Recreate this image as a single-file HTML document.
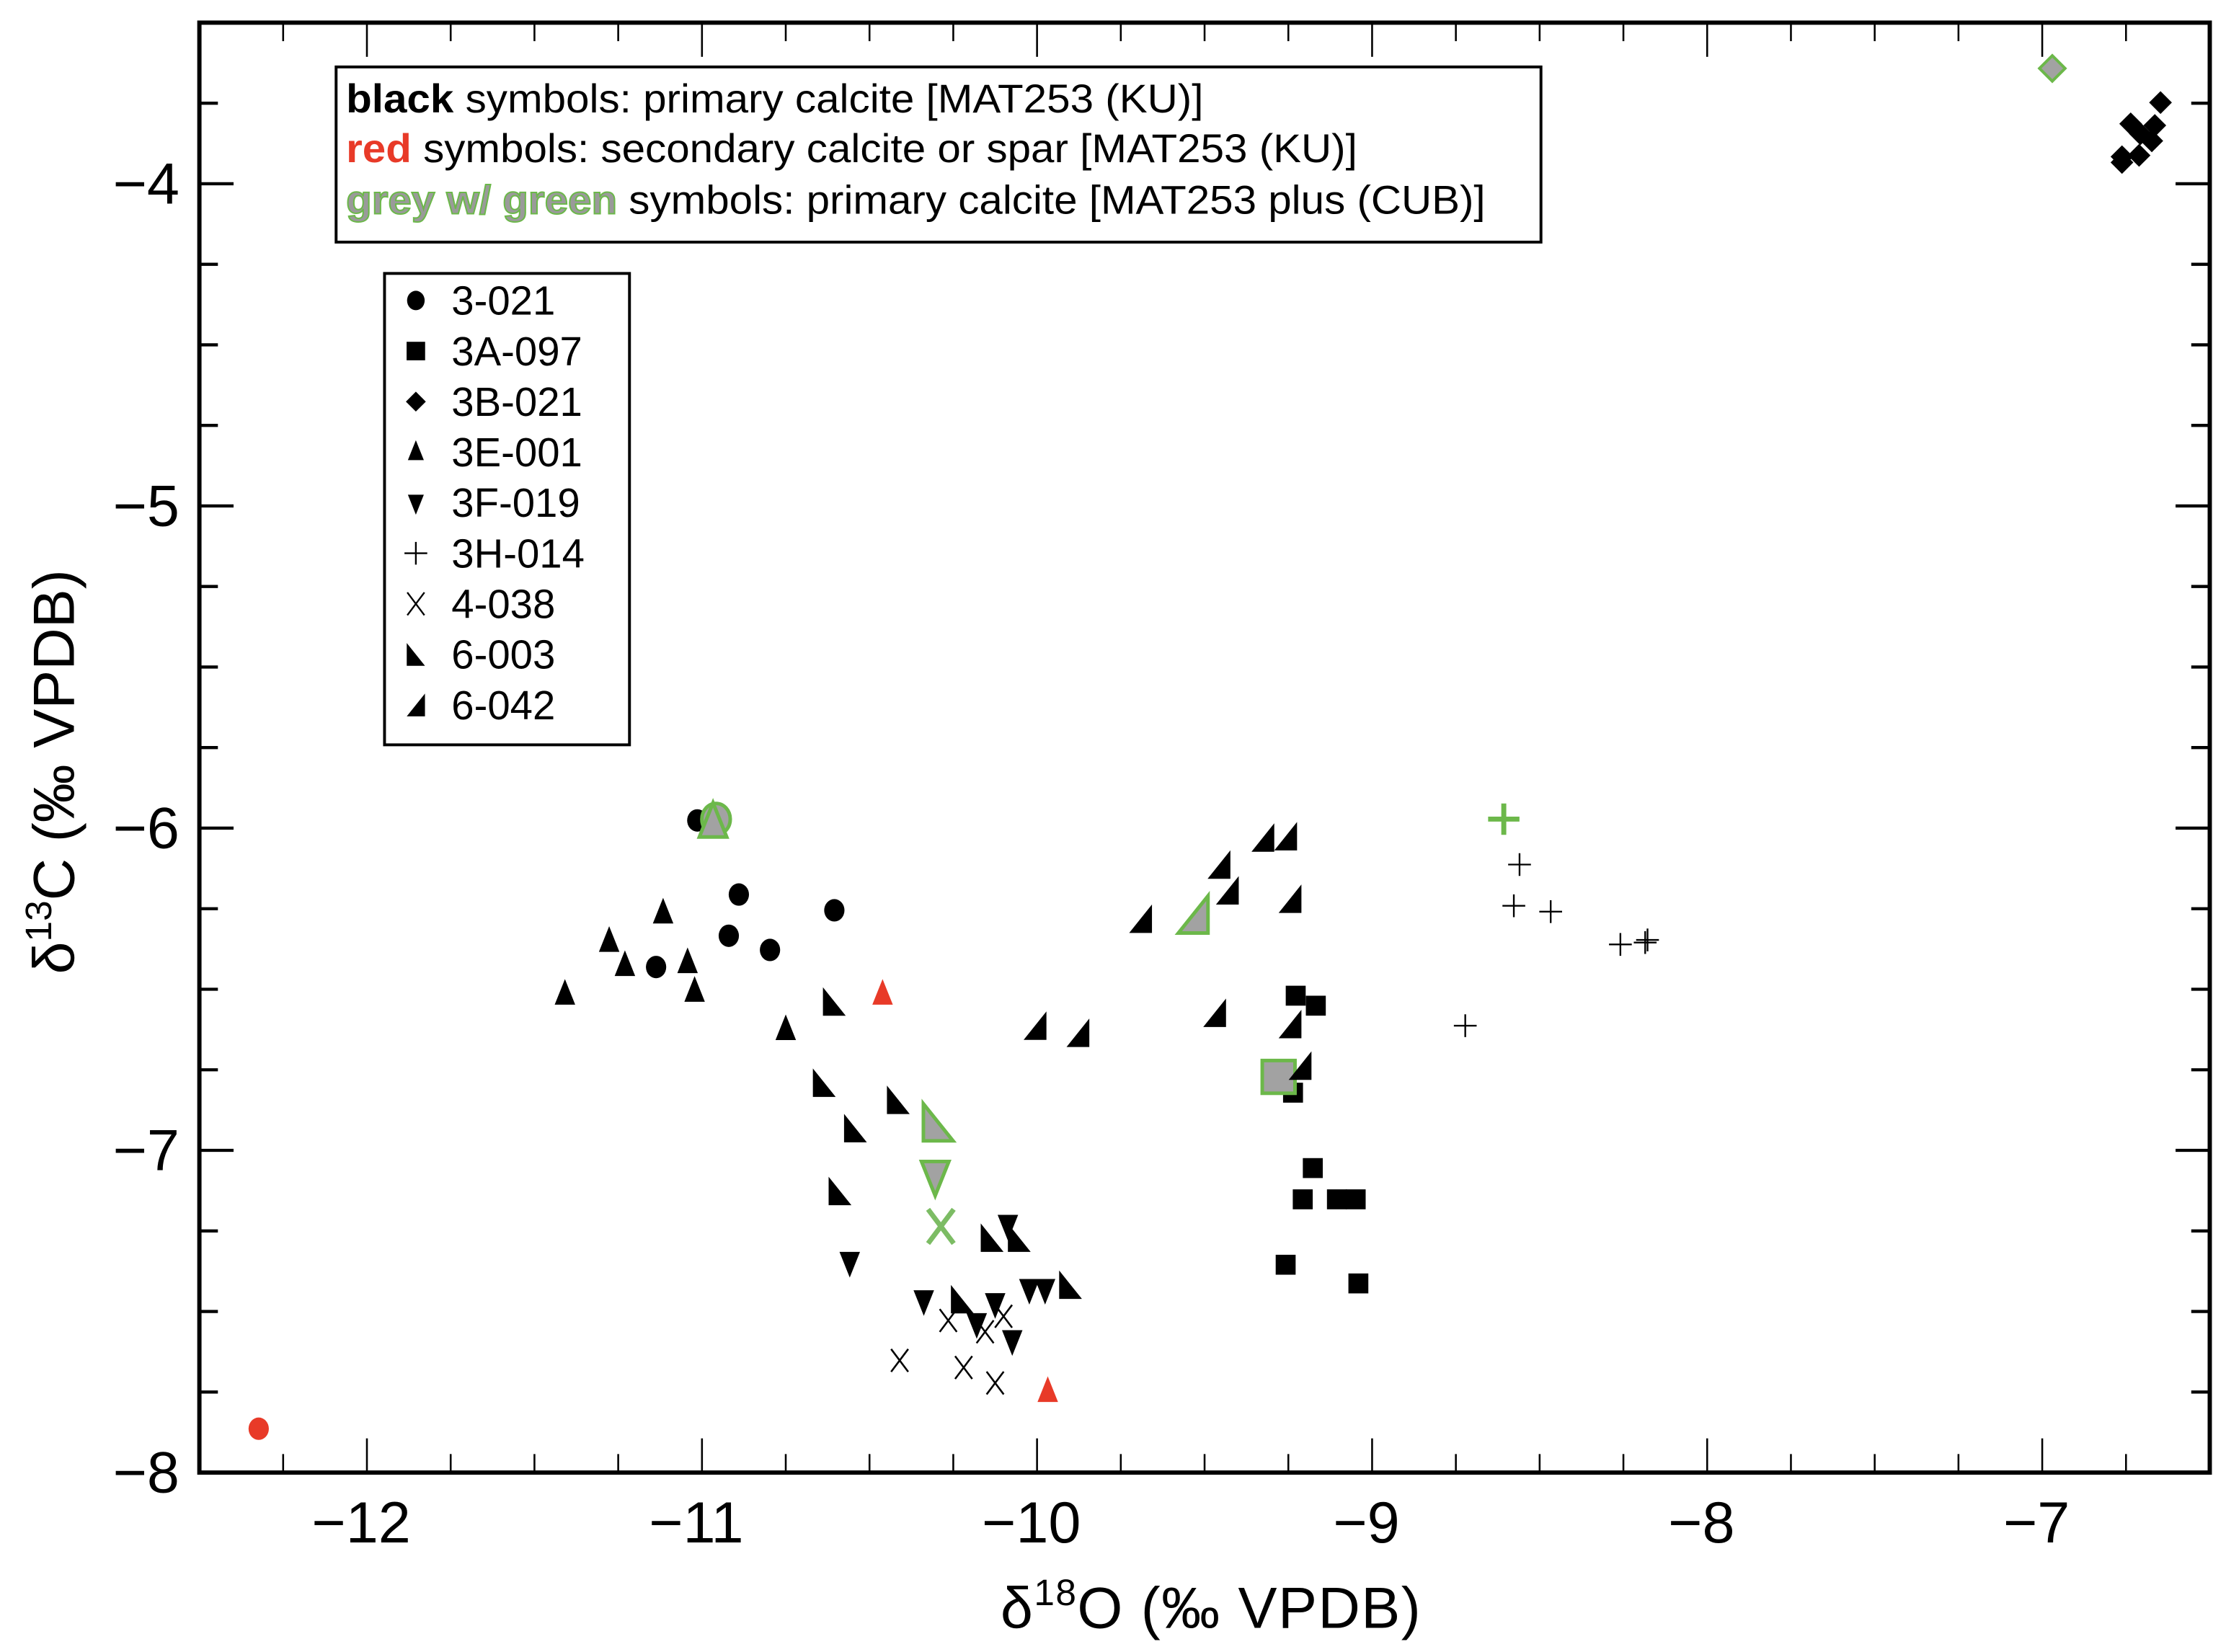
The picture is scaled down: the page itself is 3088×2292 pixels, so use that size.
<!DOCTYPE html>
<html><head><meta charset="utf-8"><style>
html,body{margin:0;padding:0;background:#fff;}
svg{display:block;font-family:"Liberation Sans",Arial,sans-serif;}
</style></head><body>
<svg id="chart" width="3088" height="2292" viewBox="0 0 1563 1160" preserveAspectRatio="none" xmlns="http://www.w3.org/2000/svg">
<g id="axes"></g>
<g id="marks"></g>
<g id="legend"></g>
</svg>
<script>
const xTicks = [-12, -11, -10, -9, -8, -7];
const yTicks = [-4, -5, -6, -7, -8];
// series: [x (d18O), y (d13C)]
const s3021 = [[-11.014,-5.976],[-10.890,-6.206],[-10.920,-6.334],[-10.797,-6.378],[-11.137,-6.431],[-10.605,-6.255]];
const s3021Red = [[-12.323,-7.864]];
const s3021Green = [[-10.958,-5.972]];
const s3A097 = [[-9.228,-6.520],[-9.168,-6.551],[-9.236,-6.821],[-9.177,-7.055],[-9.207,-7.152],[-9.105,-7.152],[-9.049,-7.152],[-9.258,-7.355],[-9.041,-7.413]];
const s3A097Green = [[-9.279,-6.772]];
const s3B021 = [[-6.647,-3.748],[-6.736,-3.814],[-6.664,-3.819],[-6.707,-3.845],[-6.673,-3.867],[-6.762,-3.916],[-6.711,-3.912],[-6.762,-3.934]];
const s3B021Green = [[-6.970,-3.642]];
const s3E001 = [[-11.409,-6.516],[-11.116,-6.264],[-11.277,-6.352],[-11.230,-6.427],[-11.043,-6.418],[-11.022,-6.507],[-10.750,-6.626]];
const s3E001Red = [[-10.461,-6.516],[-9.968,-7.749]];
const s3E001Green = [[-10.967,-5.985]];
const s3F019 = [[-10.559,-7.347],[-10.338,-7.466],[-10.180,-7.537],[-10.125,-7.475],[-10.074,-7.590],[-10.023,-7.431],[-9.976,-7.431],[-10.087,-7.232]];
const s3F019Green = [[-10.304,-7.077]];
const s3H014 = [[-8.560,-6.113],[-8.577,-6.241],[-8.467,-6.259],[-8.259,-6.361],[-8.178,-6.347],[-8.185,-6.355],[-8.722,-6.613]];
const s3H014Green = [[-8.607,-5.972]];
const s4038 = [[-10.410,-7.652],[-10.265,-7.528],[-10.219,-7.674],[-10.155,-7.563],[-10.100,-7.515],[-10.125,-7.722]];
const s4038Green = [[-10.287,-7.236]];
const s6003 = [[-10.605,-6.538],[-10.635,-6.790],[-10.414,-6.843],[-10.542,-6.931],[-10.588,-7.126],[-10.134,-7.271],[-10.053,-7.271],[-10.223,-7.462],[-9.900,-7.417]];
const s6003Green = [[-10.295,-6.913]];
const s6042 = [[-9.691,-6.281],[-9.457,-6.113],[-9.432,-6.193],[-9.326,-6.029],[-9.258,-6.025],[-9.245,-6.219],[-9.470,-6.573],[-10.006,-6.613],[-9.878,-6.635],[-9.245,-6.608],[-9.215,-6.737]];
const s6042Green = [[-9.534,-6.268]];
const legendLabels = ["3-021","3A-097","3B-021","3E-001","3F-019","3H-014","4-038","6-003","6-042"];

const NS = "http://www.w3.org/2000/svg";
const L = 140, R = 1551.6, T = 15.9, B = 1034;
const xMin = -12.5, xMax = -6.5, yMin = -8, yMax = -3.5;
function sx(v){ return L + (v - xMin) / (xMax - xMin) * (R - L); }
function sy(v){ return B - (v - yMin) / (yMax - yMin) * (B - T); }
function el(tag, attrs, parent){ const e = document.createElementNS(NS, tag); for (const k in attrs) e.setAttribute(k, attrs[k]); parent.appendChild(e); return e; }

const axes = document.getElementById('axes');
const marks = document.getElementById('marks');
const legend = document.getElementById('legend');

for (let v = -12.5; v <= -6.5 + 1e-9; v += 0.25) {
  const x = sx(v); const major = Math.abs(v - Math.round(v)) < 1e-9;
  const len = major ? 24 : 13;
  const t1 = el('line', {x1:x, y1:B, x2:x, y2:B-len, stroke:'#000', 'stroke-width':1.3}, axes);
  
  
  const t2 = el('line', {x1:x, y1:T, x2:x, y2:T+len, stroke:'#000', 'stroke-width':1.3}, axes);
  
  
}
for (let v = -8; v <= -3.5 + 1e-9; v += 0.25) {
  const y = sy(v); const major = Math.abs(v - Math.round(v)) < 1e-9;
  const len = major ? 24 : 13;
  const t1 = el('line', {x1:L, y1:y, x2:L+len, y2:y, stroke:'#000', 'stroke-width':2.2}, axes);
  
  
  const t2 = el('line', {x1:R, y1:y, x2:R-len, y2:y, stroke:'#000', 'stroke-width':2.2}, axes);
  
  
}
const frame = el('rect', {x:L, y:T, width:R-L, height:B-T, fill:'none', stroke:'#000', 'stroke-width':3}, axes);



xTicks.forEach(v => {
  const t = el('text', {x:sx(v)-4, y:1083, 'text-anchor':'middle', 'font-size':41}, axes);
  t.textContent = '\u2212' + Math.abs(v);
  
  
});
yTicks.forEach(v => {
  const t = el('text', {x:126, y:sy(v)+14, 'text-anchor':'end', 'font-size':41}, axes);
  t.textContent = '\u2212' + Math.abs(v);
  
  
});
const xt = el('text', {x:850, y:1143, 'text-anchor':'middle', 'font-size':41, textLength:295}, axes);
xt.innerHTML = 'δ<tspan font-size="26" dy="-16">18</tspan><tspan dy="16">O (‰ VPDB)</tspan>';


const yt = el('text', {x:0, y:0, 'text-anchor':'middle', 'font-size':41, transform:'translate(52,542) rotate(-90)'}, axes);
yt.innerHTML = 'δ<tspan font-size="26" dy="-16">13</tspan><tspan dy="16">C (‰ VPDB)</tspan>';



function marker(kind, cx, cy, s, fill, stroke, sw, parent){
  let e;
  if (kind === 'circle') e = el('ellipse', {cx, cy, rx:s*0.95, ry:s*1.05}, parent);
  else if (kind === 'square') e = el('rect', {x:cx-s, y:cy-s, width:2*s, height:2*s}, parent);
  else if (kind === 'diamond') e = el('polygon', {points:`${cx},${cy-s} ${cx+s},${cy} ${cx},${cy+s} ${cx-s},${cy}`}, parent);
  else if (kind === 'up') e = el('polygon', {points:`${cx},${cy-s*1.2} ${cx+s*0.8},${cy+s*0.8} ${cx-s*0.8},${cy+s*0.8}`}, parent);
  else if (kind === 'down') e = el('polygon', {points:`${cx},${cy+s*1.2} ${cx+s*0.8},${cy-s*0.8} ${cx-s*0.8},${cy-s*0.8}`}, parent);
  else if (kind === 'rtl') e = el('polygon', {points:`${cx-s*0.8},${cy-s} ${cx+s*0.8},${cy+s} ${cx-s*0.8},${cy+s}`}, parent);
  else if (kind === 'rtr') e = el('polygon', {points:`${cx+s*0.8},${cy-s} ${cx+s*0.8},${cy+s} ${cx-s*0.8},${cy+s}`}, parent);
  else if (kind === 'plus') e = el('path', {d:`M${cx-s} ${cy}H${cx+s}M${cx} ${cy-s}V${cy+s}`, fill:'none'}, parent);
  else if (kind === 'cross') e = el('path', {d:`M${cx-s*0.75} ${cy-s}L${cx+s*0.75} ${cy+s}M${cx+s*0.75} ${cy-s}L${cx-s*0.75} ${cy+s}`, fill:'none'}, parent);
  if (kind === 'plus' || kind === 'cross') { e.setAttribute('stroke', stroke || fill); e.setAttribute('stroke-width', sw || 1.2); }
  else { e.setAttribute('fill', fill); if (stroke) { e.setAttribute('stroke', stroke); e.setAttribute('stroke-width', sw); } }
  return e;
}
const GREEN = '#6cb84a', GREY = '#a2a2a2', RED = '#e83a28';
function series(arr, kind, size, fill, stroke, sw, name){
  arr.forEach(p => {
    const m = marker(kind, sx(p[0]), sy(p[1]), size, fill, stroke, sw, marks);
    
    
  });
}
series(s3021, 'circle', 7.5, '#000', null, 0, 'point-3-021');
series(s3021Red, 'circle', 7.5, RED, null, 0, 'point-3-021-red');
series(s3021Green, 'circle', 10.5, GREY, GREEN, 2.5, 'point-3-021-green');
series(s3A097, 'square', 7, '#000', null, 0, 'point-3a-097');
series(s3A097Green, 'square', 11.5, GREY, GREEN, 2.5, 'point-3a-097-green');
series(s3B021, 'diamond', 8, '#000', null, 0, 'point-3b-021');
series(s3B021Green, 'diamond', 9, GREY, GREEN, 2, 'point-3b-021-green');
series(s3E001, 'up', 9, '#000', null, 0, 'point-3e-001');
series(s3E001Red, 'up', 9, RED, null, 0, 'point-3e-001-red');
series(s3E001Green, 'up', 12, GREY, GREEN, 2.5, 'point-3e-001-green');
series(s3F019, 'down', 9, '#000', null, 0, 'point-3f-019');
series(s3F019Green, 'down', 12, GREY, GREEN, 2.5, 'point-3f-019-green');
series(s3H014, 'plus', 8, '#000', '#000', 1.2, 'point-3h-014');
series(s3H014Green, 'plus', 11, GREEN, GREEN, 3.5, 'point-3h-014-green');
series(s4038, 'cross', 8, '#000', '#000', 1.3, 'point-4-038');
series(s4038Green, 'cross', 12, GREEN, '#7cbc64', 3.5, 'point-4-038-green');
series(s6003, 'rtl', 10, '#000', null, 0, 'point-6-003');
series(s6003Green, 'rtl', 13, GREY, GREEN, 2.5, 'point-6-003-green');
series(s6042, 'rtr', 10, '#000', null, 0, 'point-6-042');
series(s6042Green, 'rtr', 13, GREY, GREEN, 2.5, 'point-6-042-green');

const box1 = el('rect', {x:236, y:47, width:846, height:123, fill:'#fff', stroke:'#000', 'stroke-width':2}, legend);


const lines = [
  ['black', '#000', ' symbols: primary calcite [MAT253 (KU)]', 79, 602],
  ['red', RED, ' symbols: secondary calcite or spar [MAT253 (KU)]', 114, 710],
  ['grey w/ green', '#9a9a9a', ' symbols: primary calcite [MAT253 plus (CUB)]', 150, 800]
];
lines.forEach((l, i) => {
  const t = el('text', {x:243, y:l[3], 'font-size':28, textLength:l[4], lengthAdjust:'spacingAndGlyphs'}, legend);
  const extra = i === 2 ? ` stroke="${GREEN}" stroke-width="1"` : '';
  t.innerHTML = `<tspan font-weight="bold" fill="${l[1]}"${extra}>${l[0]}</tspan>${l[2]}`;
  
  
});
const box2 = el('rect', {x:270, y:192, width:172, height:331, fill:'#fff', stroke:'#000', 'stroke-width':2}, legend);


const kinds = ['circle','square','diamond','up','down','plus','cross','rtl','rtr'];
const sizes = [6.5, 6.5, 7, 7, 7, 8, 8, 8, 8];
legendLabels.forEach((lab, i) => {
  const cy = 211 + i * 35.5;
  const m = marker(kinds[i], 292, cy, sizes[i], '#000', (kinds[i]==='plus'||kinds[i]==='cross') ? '#000' : null, 1.2, legend);
  
  
  const t = el('text', {x:317, y:cy+10, 'font-size':28.5}, legend);
  t.textContent = lab;
  
  
});
</script>
</body></html>
